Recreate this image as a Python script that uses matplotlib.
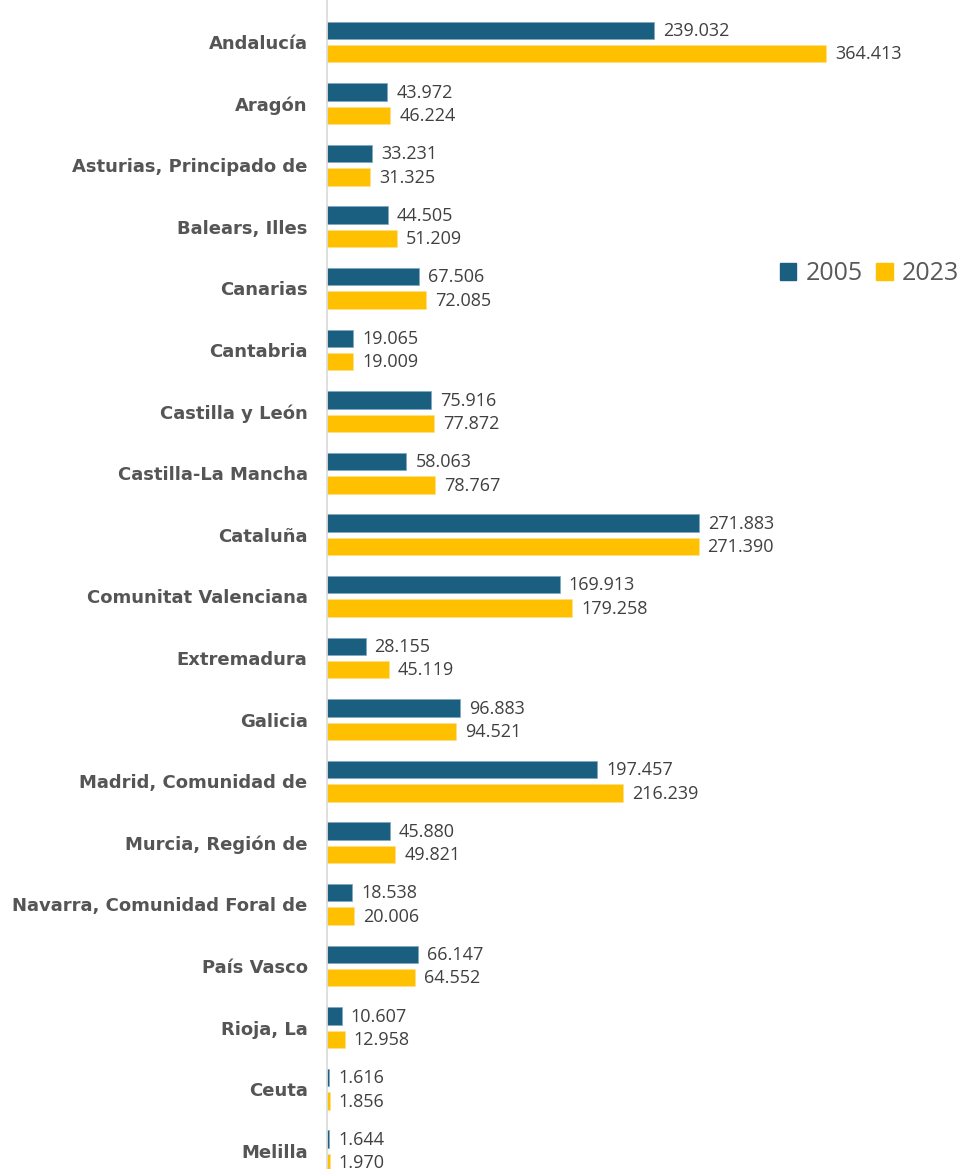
import matplotlib
matplotlib.use("Agg")
import matplotlib.pyplot as plt
import numpy as np
from matplotlib.patches import Patch

categories = ["Andalucía", "Aragón", "Asturias, Principado de", "Balears, Illes",
              "Canarias", "Cantabria", "Castilla y León", "Castilla-La Mancha",
              "Cataluña", "Comunitat Valenciana", "Extremadura", "Galicia",
              "Madrid, Comunidad de", "Murcia, Región de", "Navarra, Comunidad Foral de",
              "País Vasco", "Rioja, La", "Ceuta", "Melilla"]
values_2005 = [239.032, 43.972, 33.231, 44.505, 67.506, 19.065, 75.916, 58.063,
               271.883, 169.913, 28.155, 96.883, 197.457, 45.880, 18.538, 66.147,
               10.607, 1.616, 1.644]
values_2023 = [364.413, 46.224, 31.325, 51.209, 72.085, 19.009, 77.872, 78.767,
               271.390, 179.258, 45.119, 94.521, 216.239, 49.821, 20.006, 64.552,
               12.958, 1.856, 1.970]
series_names = ["2005", "2023"]

c2005 = "#1A5E80"
c2023 = "#FFC000"

W, H = 963, 1169
fig = plt.figure(figsize=(W / 100, H / 100), dpi=100)
ax = fig.add_axes([327 / W, 0, 1 - 327 / W, 1])

pitch = 61.6
first = 42
ax.set_ylim((H - first) / pitch, -first / pitch)
ax.set_xlim(0, (W - 327) / 1.369)

y = np.arange(len(categories))
h = 0.28
off = 0.19
b1 = ax.barh(y - off, values_2005, height=h, color=c2005, edgecolor="#7FA8C0", linewidth=0.5)
b2 = ax.barh(y + off, values_2023, height=h, color=c2023, edgecolor="#FFE08A", linewidth=0.5)

def fmt(v):
    return f"{v:.3f}"

for bars, vals in ((b1, values_2005), (b2, values_2023)):
    for rect, v in zip(bars, vals):
        ax.annotate(fmt(v), (rect.get_width(), rect.get_y() + rect.get_height() / 2),
                    xytext=(6.5, -0.5), textcoords="offset points", va="center", ha="left",
                    fontsize=13, color="#404040", family=["Open Sans", "DejaVu Sans"])

ax.set_yticks(y)
ax.set_yticklabels(categories, fontsize=13, fontweight="bold", color="#555555",
                   family=["DejaVu Sans"])
ax.tick_params(axis="y", length=0, pad=14)
ax.set_xticks([])
for s in ["top", "right", "bottom"]:
    ax.spines[s].set_visible(False)
ax.spines["left"].set_color("#D9D9D9")
ax.spines["left"].set_linewidth(1.2)

handles = [Patch(facecolor=c2005, edgecolor=c2005), Patch(facecolor=c2023, edgecolor=c2023)]
leg = fig.legend(handles, series_names, loc="center right", bbox_to_anchor=(1 - 4 / W, 1 - 274 / H),
                 ncol=2, frameon=False, handlelength=0.66, handleheight=0.66,
                 handletextpad=0.37, columnspacing=0.53, borderaxespad=0.0, borderpad=0.0,
                 prop={"family": ["Open Sans", "DejaVu Sans"], "size": 18})
for t in leg.get_texts():
    t.set_color("#595959")

fig.savefig("out.png", dpi=100)
